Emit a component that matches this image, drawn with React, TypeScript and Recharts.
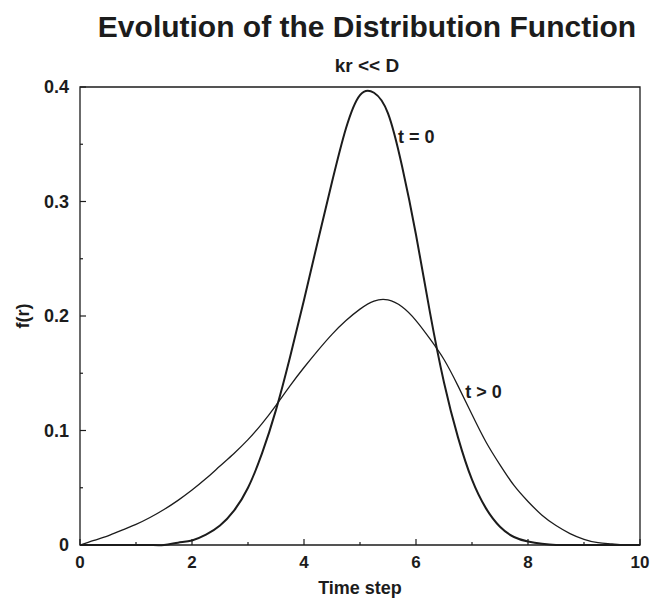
import React from 'react';
import { LineChart, Line, XAxis, YAxis, ReferenceArea, ReferenceDot, Label } from 'recharts';

// step 0.25
const timeSteps = [
  0, 0.25, 0.5, 0.75, 1, 1.25, 1.5, 1.75, 2, 2.25, 2.5, 2.75, 3, 3.25, 3.5, 3.75, 4, 4.25, 4.5, 4.75,
  5, 5.25, 5.5, 5.75, 6, 6.25, 6.5, 6.75, 7, 7.25, 7.5, 7.75, 8, 8.25, 8.5, 8.75, 9, 9.25, 9.5, 9.75, 10,
];
const fInitial = [
  0, 0, 0, 0, 0, 0, 0, 0.002, 0.004, 0.009, 0.017, 0.03, 0.05, 0.08, 0.118, 0.164, 0.214, 0.266, 0.317, 0.364,
  0.393, 0.395, 0.377, 0.331, 0.271, 0.203, 0.142, 0.094, 0.057, 0.032, 0.016, 0.007, 0.003, 0.001, 0, 0, 0, 0, 0, 0, 0,
];
const fLater = [
  0, 0.004, 0.008, 0.013, 0.018, 0.024, 0.031, 0.039, 0.048, 0.058, 0.069, 0.08, 0.092, 0.106, 0.122, 0.139, 0.155, 0.17, 0.184, 0.196,
  0.206, 0.213, 0.214, 0.208, 0.196, 0.18, 0.162, 0.139, 0.114, 0.09, 0.07, 0.052, 0.038, 0.026, 0.017, 0.01, 0.005, 0.002, 0.001, 0, 0,
];

const xTicks = [0, 1, 2, 3, 4, 5, 6, 7, 8, 9, 10];
const yTicks = [0, 0.05, 0.1, 0.15, 0.2, 0.25, 0.3, 0.35, 0.4];
const yTickLabels = ['0', '', '0.1', '', '0.2', '', '0.3', '', '0.4'];

const data = timeSteps.map((t, i) => ({ t, f0: fInitial[i], f1: fLater[i] }));

const FONT = '"Liberation Sans", Arial, Helvetica, sans-serif';
const INK = '#1c1c1c';

const XTick = (props: any) => {
  const { x, y, payload } = props;
  const major = payload.value % 2 === 0;
  return (
    <g>
      <line x1={x} y1={y} x2={x} y2={y - (major ? 6 : 3)} stroke={INK} strokeWidth={1.2} />
      {major && (
        <text x={x} y={y + 23} textAnchor="middle" fontFamily={FONT} fontWeight="bold" fontSize={17} fill={INK}>
          {payload.value}
        </text>
      )}
    </g>
  );
};

const YTick = (props: any) => {
  const { x, y, index } = props;
  const label = yTickLabels[index];
  const major = label !== '';
  return (
    <g>
      <line x1={x} y1={y} x2={x + (major ? 6 : 3)} y2={y} stroke={INK} strokeWidth={1.2} />
      {major && (
        <text x={x - 11} y={y + 6} textAnchor="end" fontFamily={FONT} fontWeight="bold" fontSize={18} fill={INK}>
          {label}
        </text>
      )}
    </g>
  );
};

const TextMark = (text: string) => (p: any) => (
  <text x={p.cx} y={p.cy} fontFamily={FONT} fontWeight="bold" fontSize={18} fill={INK}>
    {text}
  </text>
);

export default function App() {
  return (
    <div style={{ position: 'absolute', left: 0, top: 0, width: 653, height: 602, background: '#fff' }}>
      <div
        style={{
          position: 'absolute', left: 0, top: 10, width: 734, textAlign: 'center',
          fontFamily: FONT, fontWeight: 'bold', fontSize: 30, color: INK, lineHeight: '34px',
        }}
      >
        Evolution of the Distribution Function
      </div>
      <div
        style={{
          position: 'absolute', left: 0, top: 55, width: 734, textAlign: 'center',
          fontFamily: FONT, fontWeight: 'bold', fontSize: 19, color: INK, lineHeight: '22px',
        }}
      >
        kr &lt;&lt; D
      </div>
      <LineChart width={653} height={602} data={data} margin={{ top: 87, right: 13, bottom: 0, left: 0 }}>
        <XAxis
          dataKey="t"
          type="number"
          domain={[0, 10]}
          ticks={xTicks}
          height={57}
          axisLine={false}
          tickLine={false}
          tickSize={0}
          tickMargin={0}
          tick={<XTick />}
          interval={0}
        >
          <Label
            content={(p: any) => (
              <text
                x={p.viewBox.x + p.viewBox.width / 2}
                y={p.viewBox.y + 49}
                textAnchor="middle"
                fontFamily={FONT}
                fontWeight="bold"
                fontSize={18}
                fill={INK}
              >
                Time step
              </text>
            )}
          />
        </XAxis>
        <YAxis
          type="number"
          domain={[0, 0.4]}
          ticks={yTicks}
          width={80}
          axisLine={false}
          tickLine={false}
          tickSize={0}
          tickMargin={0}
          tick={<YTick />}
          interval={0}
        >
          <Label
            content={(p: any) => {
              const cx = p.viewBox.x + 23;
              const cy = p.viewBox.y + p.viewBox.height / 2;
              return (
                <text
                  x={cx}
                  y={cy}
                  transform={`rotate(-90 ${cx} ${cy})`}
                  textAnchor="middle"
                  dominantBaseline="central"
                  fontFamily={FONT}
                  fontWeight="bold"
                  fontSize={18}
                  fill={INK}
                >
                  f(r)
                </text>
              );
            }}
          />
        </YAxis>
        <ReferenceArea x1={0} x2={10} y1={0} y2={0.4} fill="none" stroke={INK} strokeWidth={1.3} />
        <Line
          type="natural"
          dataKey="f0"
          stroke={INK}
          strokeWidth={2}
          dot={false}
          isAnimationActive={false}
        />
        <Line
          type="natural"
          dataKey="f1"
          stroke={INK}
          strokeWidth={1.3}
          dot={false}
          isAnimationActive={false}
        />
        <ReferenceDot x={5.68} y={0.351} r={0} shape={TextMark('t = 0')} />
        <ReferenceDot x={6.88} y={0.128} r={0} shape={TextMark('t > 0')} />
      </LineChart>
    </div>
  );
}
